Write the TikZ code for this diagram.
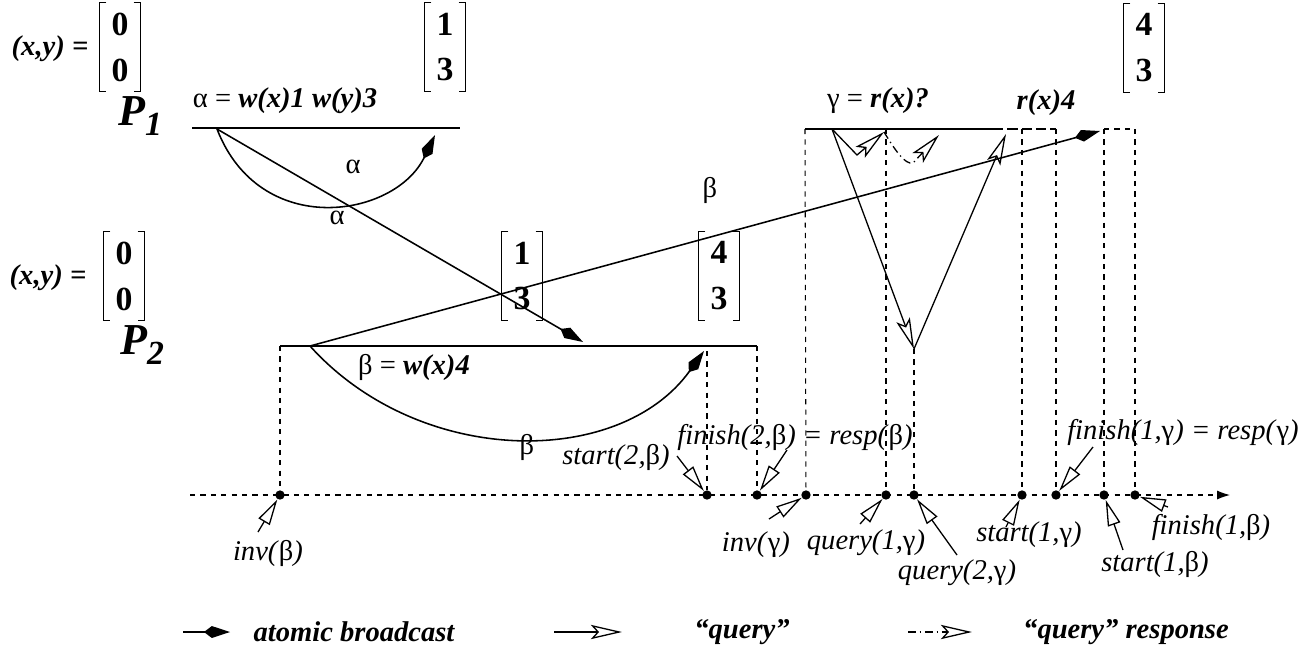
\documentclass[tikz,border=0pt]{standalone}
\usepackage{fontspec}
\setmainfont{Liberation Serif}
\usetikzlibrary{arrows.meta,positioning}
\newcommand{\gra}{\textup{α}}
\newcommand{\grb}{\textup{β}}
\newcommand{\grg}{\textup{γ}}
% square brackets round a column vector node
\newcommand{\vecbr}[1]{%
  \draw[brk] (#1.north west) ++(7,0) -- (#1.north west) -- (#1.south west) -- ++(7,0);
  \draw[brk] (#1.north east) ++(-7,0) -- (#1.north east) -- (#1.south east) -- ++(-7,0);}

\begin{document}
\begin{tikzpicture}[
  x=0.385pt, y=-0.385pt,
  every node/.style={font=\fontsize{11}{13}\selectfont},
  proc/.style={line width=0.6pt},
  guide/.style={line width=0.4pt, dash pattern=on 2pt off 2pt},
  brk/.style={line width=0.5pt},
  bcast/.style={line width=0.6pt, -{Kite[length=10pt,width=4.6pt,inset=3pt]}},
  query/.style={line width=0.5pt, -{Stealth[open,length=12pt,width=5.5pt,inset=2.5pt]}},
  qresp/.style={query, dash pattern=on 3pt off 1.5pt on 0.5pt off 1.5pt},
  note/.style={line width=0.5pt, -{Triangle[open,length=10pt,width=5pt]}},
  ev/.style={circle, fill, inner sep=0pt, minimum size=3.6pt},
  lbl/.style={font=\fontsize{11}{13}\selectfont\itshape, inner sep=1pt},
  key/.style={font=\fontsize{11}{13}\selectfont\bfseries\itshape, inner sep=1pt},
  vec/.style={font=\fontsize{13}{17.7}\selectfont\bfseries, align=center,
              minimum width=15.4pt, minimum height=33.9pt, inner sep=0pt},
  pname/.style={font=\fontsize{17}{20}\selectfont\bfseries\itshape, inner sep=0pt}
]
  \useasboundingbox (0,0) rectangle (1309,654);

  % process P1
  \node[key](xy1) at (50,49){(x,y) =};
  \node[vec](v10) at (120,47){0\\0};
  \node[vec](v11) at (445,47){1\\3};
  \node[vec](v12) at (1144,48){4\\3};
  \vecbr{v10}\vecbr{v11}\vecbr{v12}
  \node[pname](P1) at (140,116){P\raisebox{-4pt}{\fontsize{13}{13}\selectfont 1}};
  \node[inner sep=1pt](alab) at (285,101){\gra{} = \textbf{\textit{w(x)1 w(y)3}}};
  \node[inner sep=1pt](glab) at (878,101){\grg{} = \textbf{\textit{r(x)?}}};
  \node[key](rlab) at (1046,103){r(x)4};
  \coordinate (p1a) at (192,128);
  \coordinate (p1b) at (460,128);
  \coordinate (p1c) at (805,129);
  \coordinate (p1e) at (993,129);
  \coordinate (p1d) at (1056,129);
  \draw[proc](p1a)--(p1b);
  \draw[proc](p1c)--(p1e);
  \draw[proc, dash pattern=on 4pt off 1.5pt](p1e)--(p1d);

  % process P2
  \node[key](xy2) at (48,278){(x,y) =};
  \node[vec](v20) at (124,276){0\\0};
  \node[vec](v21) at (522,276){1\\3};
  \node[vec](v22) at (719,276){4\\3};
  \vecbr{v20}\vecbr{v21}\vecbr{v22}
  \node[pname](P2) at (142,345){P\raisebox{-4pt}{\fontsize{13}{13}\selectfont 2}};
  \node[inner sep=1pt](blab) at (414,367){\grb{} = \textbf{\textit{w(x)4}}};
  \coordinate (p2a) at (280,346);
  \coordinate (p2b) at (757,346);
  \draw[proc](p2a)--(p2b);

  % broadcasts
  \coordinate (asnd) at (217,129);
  \coordinate (aown) at (435,135);
  \coordinate (arcv) at (583,342);
  \coordinate (bsnd) at (310,346);
  \coordinate (bown) at (704,351);
  \coordinate (brcv) at (1100,131);
  \draw[bcast](asnd) .. controls (260,240) and (395,218) .. (aown);
  \draw[bcast](asnd)--(arcv);
  \draw[bcast](bsnd) .. controls (420,468) and (620,468) .. (bown);
  \draw[bcast](bsnd)--(brcv);
  \node(a1) at (353,167){\gra};
  \node(a2) at (337,218){\gra};
  \node(b1) at (710,190){\grb};
  \node(b2) at (527,447){\grb};

  % queries of gamma
  \coordinate (gsnd) at (832,129);
  \coordinate (gq1v) at (857,155);
  \coordinate (gq1) at (884,132);
  \coordinate (gr1v) at (913,163);
  \coordinate (gr1) at (939,135);
  \coordinate (gq2) at (914,349);
  \coordinate (gr2) at (1006,134);
  \draw[query](gsnd)--(gq1v)--(gq1);
  \draw[qresp](gq1) .. controls (895,150) and (905,165) .. (gr1v)--(gr1);
  \draw[query](gsnd)--(gq2);
  \draw[query](gq2)--(gr2);

  % time axis
  \coordinate (axs) at (190,495);
  \coordinate (axe) at (1230,495);
  \draw[guide, -{Latex[length=5pt,width=3.5pt]}](axs)--(axe);
  \node[ev](invb) at (280,495){};
  \node[ev](st2b) at (707,495){};
  \node[ev](fi2b) at (757,495){};
  \node[ev](invg) at (806,495){};
  \node[ev](q1g) at (886,495){};
  \node[ev](q2g) at (914,495){};
  \node[ev](st1g) at (1022,495){};
  \node[ev](fi1g) at (1056,495){};
  \node[ev](st1b) at (1104,495){};
  \node[ev](fi1b) at (1135,495){};

  \draw[guide](p2a)--(invb);
  \draw[guide](707,351)--(st2b);
  \draw[guide](p2b)--(fi2b);
  \draw[guide](p1c)--(invg);
  \draw[guide](886,129)--(q1g);
  \draw[guide](gq2)--(q2g);
  \draw[guide](1022,129)--(st1g);
  \draw[guide](p1d)--(fi1g);
  \draw[guide](1104,129)--(1135,129);
  \draw[guide](1104,129)--(st1b);
  \draw[guide](1135,129)--(fi1b);

  % event labels
  \node[lbl](invbl) at (268,553){inv(\grb)};
  \node[lbl](st2bl) at (616,457){start(2,\grb)};
  \node[lbl](fi2bl) at (795,437){finish(2,\grb) = resp(\grb)};
  \node[lbl](invgl) at (756,545){inv(\grg)};
  \node[lbl](q1gl) at (866,543){query(1,\grg)};
  \node[lbl](q2gl) at (957,573){query(2,\grg)};
  \node[lbl](st1gl) at (1029,535){start(1,\grg)};
  \node[lbl](fi1gl) at (1183,432){finish(1,\grg) = resp(\grg)};
  \node[lbl](st1bl) at (1155,564){start(1,\grb)};
  \node[lbl](fi1bl) at (1211,527){finish(1,\grb)};

  \coordinate (invbt) at (258,532);
  \coordinate (st2bt) at (677,456);
  \coordinate (fi2bt) at (787,450);
  \coordinate (invgt) at (769,519);
  \coordinate (q1gt) at (860,524);
  \coordinate (q2gt) at (957,555);
  \coordinate (st1gt) at (1006,527);
  \coordinate (fi1gt) at (1093,447);
  \coordinate (st1bt) at (1123,550);
  \coordinate (fi1bt) at (1168,507);
  \draw[note](invbt)--(invb);
  \draw[note](st2bt)--(st2b);
  \draw[note](fi2bt)--(fi2b);
  \draw[note](invgt)--(invg);
  \draw[note](q1gt)--(q1g);
  \draw[note](q2gt)--(q2g);
  \draw[note](st1gt)--(st1g);
  \draw[note](fi1gt)--(fi1g);
  \draw[note](st1bt)--(st1b);
  \draw[note](fi1bt)--(fi1b);

  % legend
  \coordinate (k1a) at (183,632);
  \coordinate (k1b) at (230,632);
  \coordinate (k2a) at (554,632);
  \coordinate (k2b) at (622,632);
  \coordinate (k3a) at (908,632);
  \coordinate (k3b) at (972,632);
  \draw[bcast](k1a)--(k1b);
  \draw[query](k2a)--(k2b);
  \draw[qresp](k3a)--(k3b);
  \node[key](k1) at (354,632){atomic broadcast};
  \node[key](k2) at (742,632){``query''};
  \node[key](k3) at (1126,632){``query'' response};
\end{tikzpicture}
\end{document}
